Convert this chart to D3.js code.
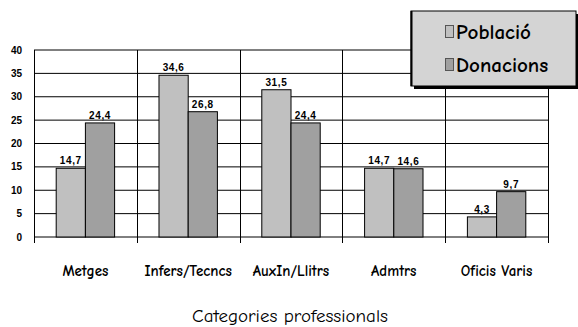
<!DOCTYPE html>
<html>
<head>
<meta charset="utf-8">
<script src="https://cdn.jsdelivr.net/npm/d3@7"></script>
<style>
  html, body { margin: 0; padding: 0; background: #fff; }
  svg { display: block; }
</style>
</head>
<body>
<svg id="chart" width="578" height="327"></svg>
<script>
// Categories and series
const categories = ["Metges", "Infers/Tecncs", "AuxIn/Llitrs", "Admtrs", "Oficis Varis"];
const seriesNames = ["Població", "Donacions"];
const poblacio = [14.7, 34.6, 31.5, 14.7, 4.3];
const donacions = [24.4, 26.8, 24.4, 14.6, 9.7];
const yTicks = [0, 5, 10, 15, 20, 25, 30, 35, 40];
const xTitle = "Categories professionals";

const colors = ["#c0c0c0", "#a0a0a0"];
const handFont = "'Comic Sans MS', 'Comic Neue', 'Noto Sans', 'DejaVu Sans', sans-serif";
const numFont = "Arial, 'Liberation Sans', sans-serif";

const svg = d3.select("#chart");
const plot = { left: 34, right: 548, top: 50, bottom: 237 };

const x = d3.scaleBand().domain(categories).range([plot.left, plot.right]);
const xs = d3.scaleBand().domain(seriesNames).range([0, x.bandwidth()]).paddingOuter(0.76).paddingInner(0);
const y = d3.scaleLinear().domain([0, 40]).range([plot.bottom, plot.top]);

// Horizontal gridlines
svg.append("g")
  .selectAll("line")
  .data(yTicks)
  .join("line")
  .attr("x1", plot.left).attr("x2", plot.right)
  .attr("y1", d => y(d)).attr("y2", d => y(d))
  .attr("stroke", "#000").attr("stroke-width", 1);

// Vertical category dividers, extended below the axis as ticks
const bounds = categories.map(c => x(c)).concat([plot.right]);
svg.append("g")
  .selectAll("line")
  .data(bounds)
  .join("line")
  .attr("x1", d => Math.round(d) + 0.5).attr("x2", d => Math.round(d) + 0.5)
  .attr("y1", plot.top).attr("y2", plot.bottom + 6)
  .attr("stroke", "#000").attr("stroke-width", 1);

// Y tick labels
svg.append("g")
  .selectAll("text")
  .data(yTicks)
  .join("text")
  .attr("x", 22).attr("y", d => y(d))
  .attr("dy", "0.35em")
  .attr("text-anchor", "end")
  .attr("font-family", numFont).attr("font-weight", "bold").attr("font-size", 10)
  .text(d => d);

// Bars
const rows = categories.map((c, i) => ({ cat: c, values: [poblacio[i], donacions[i]] }));
const fmt = v => d3.format(".1f")(v).replace(".", ",");

const groups = svg.append("g").selectAll("g")
  .data(rows)
  .join("g")
  .attr("transform", d => `translate(${x(d.cat)},0)`);

groups.selectAll("rect")
  .data(d => d.values.map((v, j) => ({ v, s: seriesNames[j], j })))
  .join("rect")
  .attr("x", d => xs(d.s))
  .attr("width", xs.bandwidth())
  .attr("y", d => y(d.v))
  .attr("height", d => y(0) - y(d.v))
  .attr("fill", d => colors[d.j])
  .attr("stroke", "#000").attr("stroke-width", 1);

groups.selectAll("text")
  .data(d => d.values.map((v, j) => ({ v, s: seriesNames[j] })))
  .join("text")
  .attr("x", d => xs(d.s) + xs.bandwidth() / 2)
  .attr("y", d => y(d.v) - 4)
  .attr("text-anchor", "middle")
  .attr("font-family", numFont).attr("font-weight", "bold").attr("font-size", 10)
  .attr("letter-spacing", 0.6)
  .text(d => fmt(d.v));

// Category labels
svg.append("g")
  .selectAll("text")
  .data(categories)
  .join("text")
  .attr("x", d => x(d) + x.bandwidth() / 2)
  .attr("y", 276)
  .attr("text-anchor", "middle")
  .attr("font-family", handFont).attr("font-weight", "bold").attr("font-size", 15)
  .text(d => d);

// Axis title
svg.append("text")
  .attr("x", 290).attr("y", 322)
  .attr("text-anchor", "middle")
  .attr("font-family", handFont).attr("font-size", 19)
  .text(xTitle);

// Legend with drop shadow
const lg = svg.append("g");
lg.append("rect").attr("x", 414).attr("y", 14).attr("width", 166).attr("height", 75).attr("fill", "#000");
lg.append("rect").attr("x", 411).attr("y", 11).attr("width", 165).attr("height", 75)
  .attr("fill", "#d4d4d4").attr("stroke", "#000").attr("stroke-width", 1);
lg.append("line").attr("x1", 411.5).attr("x2", 411.5).attr("y1", 11).attr("y2", 86)
  .attr("stroke", "#000").attr("stroke-width", 2);
seriesNames.forEach((s, i) => {
  const yy = 32 + i * 33;
  lg.append("rect").attr("x", 445.5).attr("y", yy - 6.5).attr("width", 8).attr("height", 12)
    .attr("fill", colors[i]).attr("stroke", "#555").attr("stroke-width", 1);
  lg.append("text").attr("x", 456).attr("y", yy).attr("dy", "0.35em")
    .attr("font-family", handFont).attr("font-weight", "bold").attr("font-size", 21)
    .text(s);
});
</script>
</body>
</html>
